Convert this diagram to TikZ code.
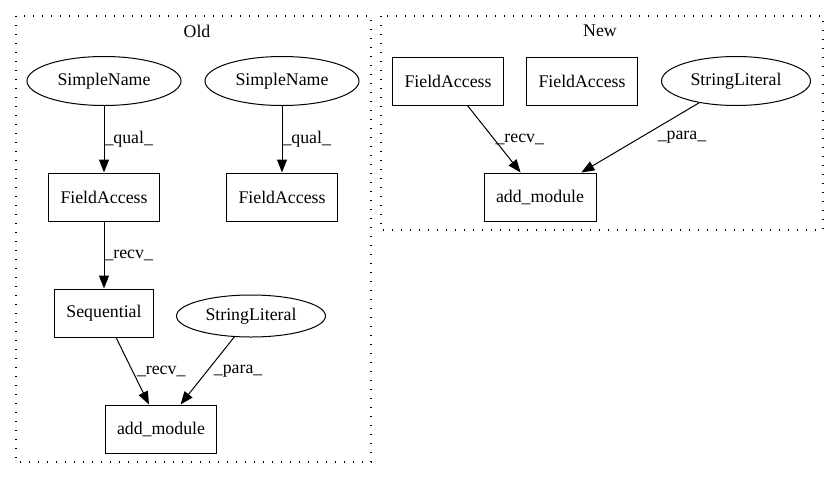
\documentclass[tikz,border=0pt]{standalone}
\usepackage{fontspec}
\setmainfont{Liberation Serif}
\usetikzlibrary{shapes.geometric, arrows.meta, positioning, calc}

\begin{document}
\begin{tikzpicture}[x=1pt, y=-1pt,
      font=\fontsize{17.8pt}{20pt}\selectfont,
      box/.style={draw, line width=1pt, rectangle, minimum height=48pt,
      inner xsep=12pt, inner ysep=0pt},
      oval/.style={draw, line width=1pt, ellipse, inner sep=0pt},
      edge/.style={line width=1pt, -{Triangle[length=13pt, width=10pt]}},
      edgelabel/.style={anchor=west, inner sep=0pt},
      cluster/.style={line width=1.2pt, dash pattern=on 1.3pt off 7.7pt} ]
    \useasboundingbox (0,0) rectangle (837,480);

    % Clusters
    \draw[cluster] (16,16) rectangle (371,462);
    \draw[cluster] (381,16) rectangle (823,230);
    \node (oldlabel) at (197,31) {Old};
    \node (newlabel) at (600,31) {New};

    % Old nodes
    \node[oval, minimum width=154pt, minimum height=49pt] (sn1) at (104,81) {SimpleName};
    \node[oval, minimum width=154pt, minimum height=49pt] (sn2) at (282,81) {SimpleName};
    \node[box] (fa1) at (104,197) {FieldAccess};
    \node[box] (fa2) at (282,197) {FieldAccess};
    \node[box] (seq) at (104,313) {Sequential};
    \node[oval, minimum width=149pt, minimum height=42pt] (sl1) at (251,316) {StringLiteral};
    \node[box] (am1) at (161,429) {add\_module};

    % New nodes
    \node[box] (fa3) at (448,81) {FieldAccess};
    \node[box] (fa4) at (582,81) {FieldAccess};
    \node[oval, minimum width=149pt, minimum height=49pt] (sl2) at (736,81) {StringLiteral};
    \node[box] (am2) at (540,197) {add\_module};

    % Old edges
    \draw[edge] (sn1) -- node[edgelabel, pos=.5] {\_qual\_} (fa1);
    \draw[edge] (sn2) -- node[edgelabel, pos=.5] {\_qual\_} (fa2);
    \draw[edge] (fa1) -- node[edgelabel, pos=.5] {\_recv\_} (seq);
    \draw[edge] (seq) -- node[edgelabel, pos=.5, xshift=4pt] {\_recv\_} (am1);
    \draw[edge] (sl1) -- node[edgelabel, pos=.5, xshift=6pt] {\_para\_} (am1);

    % New edges
    \draw[edge] (fa3) -- node[edgelabel, pos=.5, xshift=1pt] {\_recv\_} (am2);
    \draw[edge] (sl2) -- node[edgelabel, pos=.5, xshift=17pt] {\_para\_} (am2);

    \end{tikzpicture}
\end{document}
